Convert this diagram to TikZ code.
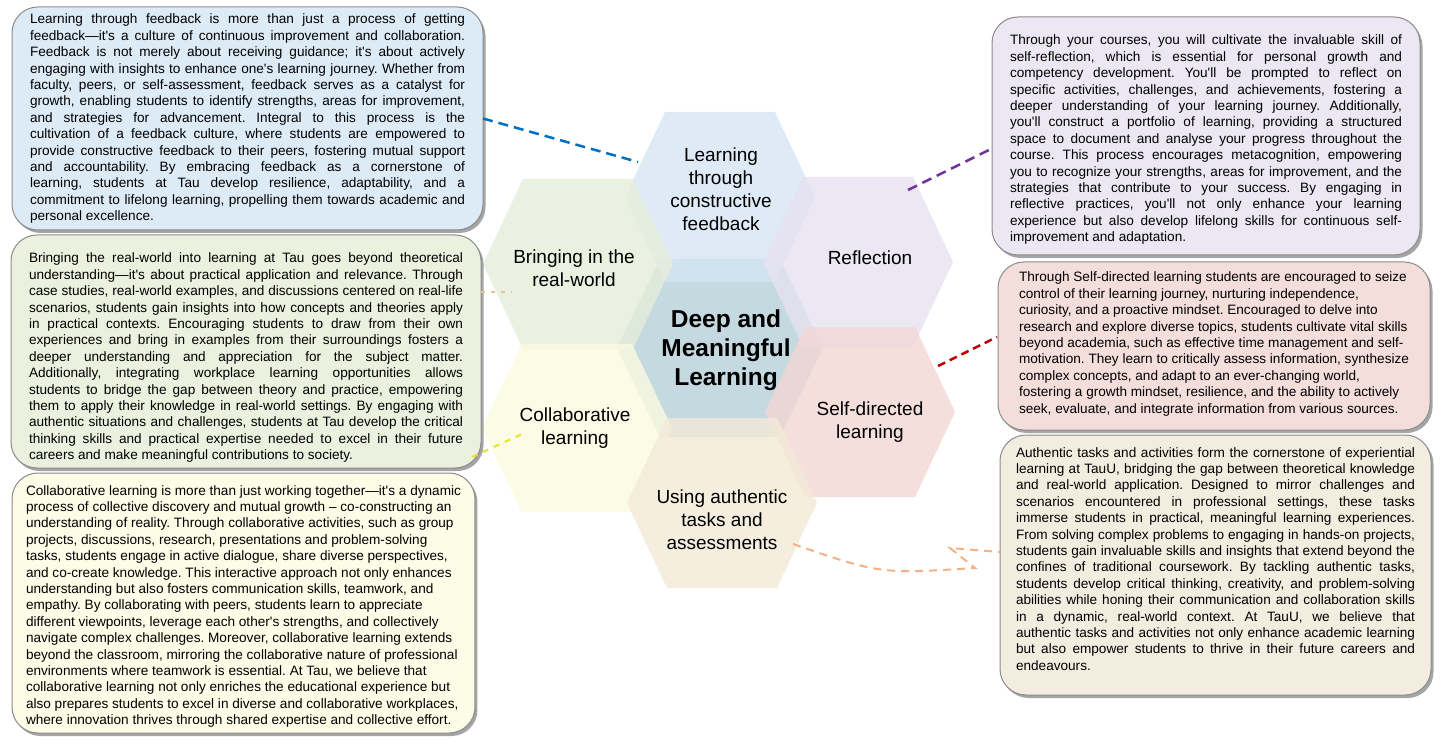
\documentclass[tikz,border=0pt]{standalone}
\usepackage{fontspec}
\setmainfont{Liberation Sans}[Ligatures=TeXOff]
\usetikzlibrary{shadows}
\frenchspacing
\definecolor{bxblue}{RGB}{221,235,247}
\definecolor{bxgreen}{RGB}{235,241,222}
\definecolor{bxyellow}{RGB}{253,252,231}
\definecolor{bxpurple}{RGB}{235,231,243}
\definecolor{bxpink}{RGB}{244,222,220}
\definecolor{bxbeige}{RGB}{243,237,223}
\definecolor{hxblue}{RGB}{214,230,245}
\definecolor{hxgreen}{RGB}{230,238,218}
\definecolor{hxpurple}{RGB}{231,226,241}
\definecolor{hxyellow}{RGB}{251,250,224}
\definecolor{hxpink}{RGB}{243,215,213}
\definecolor{hxbeige}{RGB}{243,234,216}
\definecolor{hxcenter}{RGB}{197,217,224}
\definecolor{lnblue}{RGB}{0,112,192}
\definecolor{lnpurple}{RGB}{112,48,160}
\definecolor{lnred}{RGB}{192,0,0}
\definecolor{lnyellow}{RGB}{232,228,40}
\definecolor{lnorange}{RGB}{244,177,131}
\definecolor{lntan}{RGB}{225,195,150}
\newcommand\Jl[1]{\hbox to \hsize{#1}}
\newcommand\Rl[1]{\hbox{#1}}
% cx cy halfwidth halftop halfheight style
\newcommand\hexshape[6]{%
  \fill[#6] (#1-#3,#2) -- (#1-#4,#2-#5) -- (#1+#4,#2-#5) -- (#1+#3,#2) -- (#1+#4,#2+#5) -- (#1-#4,#2+#5) -- cycle;}
\tikzset{
  infobox/.style={rectangle, draw=black!45, line width=1pt, rounded corners=26pt,
    anchor=north west, outer sep=0pt, text height=10pt,
    font=\fontsize{13.6}{16.4}\selectfont,
    drop shadow={shadow xshift=2.5pt, shadow yshift=-3pt, opacity=0.5, fill=black!70}},
  hexlabel/.style={align=center, font=\fontsize{19}{22.9}\selectfont, inner sep=0pt},
  conn/.style={line width=2.5pt, dash pattern=on 10pt off 6pt}
}
\begin{document}
\begin{tikzpicture}[x=1pt,y=-1pt]
\useasboundingbox (0,0) rectangle (1440,743);
\fill[white] (0,0) rectangle (1440,743);

% hexagons
\hexshape{720}{348}{103}{60}{89}{hxcenter}
\hexshape{720}{197}{95}{55}{85}{hxblue, fill opacity=0.8}
\hexshape{578}{264}{95}{55}{85}{hxgreen, fill opacity=0.8}
\hexshape{858}{262}{95}{55}{85}{hxpurple, fill opacity=0.8}
\hexshape{577}{428}{95}{55}{84}{hxyellow, fill opacity=0.8}
\hexshape{860}{412}{95}{55}{85}{hxpink, fill opacity=0.8}
\hexshape{722}{503}{95}{55}{85}{hxbeige, fill opacity=0.8}

% hexagon labels
\node[hexlabel] (lT) at (721,189) {Learning\\through\\constructive\\feedback};
\node[hexlabel] (lUL) at (574,268) {Bringing in the\\real-world};
\node[hexlabel] (lUR) at (870,258) {Reflection};
\node[hexlabel] (lLL) at (575,428) {Collaborative\\learning};
\node[hexlabel] (lLR) at (870,422) {Self-directed\\learning};
\node[hexlabel] (lB) at (722,520) {Using authentic\\tasks and\\assessments};
\node[hexlabel, font=\bfseries\fontsize{24.5}{29.2}\selectfont] (lC) at (726,350) {Deep and\\Meaningful\\Learning};

% text boxes
\node[infobox, fill=bxblue, inner xsep=18pt, inner ysep=7pt, text depth=199pt] (b1) at (12,7) {\vtop{\hsize=435pt\relax
\Jl{Learning through feedback is more than just a process of getting}
\Jl{feedback—it's a culture of continuous improvement and collaboration.}
\Jl{Feedback is not merely about receiving guidance; it's about actively}
\Jl{engaging with insights to enhance one's learning journey. Whether from}
\Jl{faculty, peers, or self-assessment, feedback serves as a catalyst for}
\Jl{growth, enabling students to identify strengths, areas for improvement,}
\Jl{and strategies for advancement. Integral to this process is the}
\Jl{cultivation of a feedback culture, where students are empowered to}
\Jl{provide constructive feedback to their peers, fostering mutual support}
\Jl{and accountability. By embracing feedback as a cornerstone of}
\Jl{learning, students at Tau develop resilience, adaptability, and a}
\Jl{commitment to lifelong learning, propelling them towards academic and}
\Rl{personal excellence.}}};

\node[infobox, fill=bxgreen, inner xsep=18pt, inner ysep=18pt, text depth=187pt] (b2) at (11,235) {\vtop{\hsize=434pt\relax
\Jl{Bringing the real-world into learning at Tau goes beyond theoretical}
\Jl{understanding—it's about practical application and relevance. Through}
\Jl{case studies, real-world examples, and discussions centered on real-life}
\Jl{scenarios, students gain insights into how concepts and theories apply}
\Jl{in practical contexts. Encouraging students to draw from their own}
\Jl{experiences and bring in examples from their surroundings fosters a}
\Jl{deeper understanding and appreciation for the subject matter.}
\Jl{Additionally, integrating workplace learning opportunities allows}
\Jl{students to bridge the gap between theory and practice, empowering}
\Jl{them to apply their knowledge in real-world settings. By engaging with}
\Jl{authentic situations and challenges, students at Tau develop the critical}
\Jl{thinking skills and practical expertise needed to excel in their future}
\Rl{careers and make meaningful contributions to society.}}};

\node[infobox, fill=bxyellow, inner xsep=14pt, inner ysep=12pt, text depth=226pt] (b3) at (12,473) {\vtop{\hsize=432pt\relax
\Rl{Collaborative learning is more than just working together—it's a dynamic}
\Rl{process of collective discovery and mutual growth – co-constructing an}
\Rl{understanding of reality. Through collaborative activities, such as group}
\Rl{projects, discussions, research, presentations and problem-solving}
\Rl{tasks, students engage in active dialogue, share diverse perspectives,}
\Rl{and co-create knowledge. This interactive approach not only enhances}
\Rl{understanding but also fosters communication skills, teamwork, and}
\Rl{empathy. By collaborating with peers, students learn to appreciate}
\Rl{different viewpoints, leverage each other's strengths, and collectively}
\Rl{navigate complex challenges. Moreover, collaborative learning extends}
\Rl{beyond the classroom, mirroring the collaborative nature of professional}
\Rl{environments where teamwork is essential. At Tau, we believe that}
\Rl{collaborative learning not only enriches the educational experience but}
\Rl{also prepares students to excel in diverse and collaborative workplaces,}
\Rl{where innovation thrives through shared expertise and collective effort.}}};

\node[infobox, fill=bxpurple, inner xsep=18pt, inner ysep=18pt, text depth=192pt] (b4) at (992,17) {\vtop{\hsize=392pt\relax
\Jl{Through your courses, you will cultivate the invaluable skill of}
\Jl{self-reflection, which is essential for personal growth and}
\Jl{competency development. You'll be prompted to reflect on}
\Jl{specific activities, challenges, and achievements, fostering a}
\Jl{deeper understanding of your learning journey. Additionally,}
\Jl{you'll construct a portfolio of learning, providing a structured}
\Jl{space to document and analyse your progress throughout the}
\Jl{course. This process encourages metacognition, empowering}
\Jl{you to recognize your strengths, areas for improvement, and the}
\Jl{strategies that contribute to your success. By engaging in}
\Jl{reflective practices, you'll not only enhance your learning}
\Jl{experience but also develop lifelong skills for continuous self-}
\Rl{improvement and adaptation.}}};

\node[infobox, fill=bxpink, inner xsep=21pt, inner ysep=10pt, text depth=138pt] (b5) at (998,262) {\vtop{\hsize=395pt\relax
\Rl{Through Self-directed learning students are encouraged to seize}
\Rl{control of their learning journey, nurturing independence,}
\Rl{curiosity, and a proactive mindset. Encouraged to delve into}
\Rl{research and explore diverse topics, students cultivate vital skills}
\Rl{beyond academia, such as effective time management and self-}
\Rl{motivation. They learn to critically assess information, synthesize}
\Rl{complex concepts, and adapt to an ever-changing world,}
\Rl{fostering a growth mindset, resilience, and the ability to actively}
\Rl{seek, evaluate, and integrate information from various sources.}}};

\node[infobox, fill=bxbeige, inner xsep=16pt, inner ysep=12pt, text depth=226pt] (b6) at (1000,435) {\vtop{\hsize=399pt\relax
\Jl{Authentic tasks and activities form the cornerstone of experiential}
\Jl{learning at TauU, bridging the gap between theoretical knowledge}
\Jl{and real-world application. Designed to mirror challenges and}
\Jl{scenarios encountered in professional settings, these tasks}
\Jl{immerse students in practical, meaningful learning experiences.}
\Jl{From solving complex problems to engaging in hands-on projects,}
\Jl{students gain invaluable skills and insights that extend beyond the}
\Jl{confines of traditional coursework. By tackling authentic tasks,}
\Jl{students develop critical thinking, creativity, and problem-solving}
\Jl{abilities while honing their communication and collaboration skills}
\Jl{in a dynamic, real-world context. At TauU, we believe that}
\Jl{authentic tasks and activities not only enhance academic learning}
\Jl{but also empower students to thrive in their future careers and}
\Rl{endeavours.}}};

% connectors
\coordinate (pT) at (638,162);
\draw[conn, lnblue] (b1.east) -- (pT);
\coordinate (pUL) at (512,292);
\draw[lntan, line width=1.5pt, dash pattern=on 4pt off 6pt] (b2.east |- pUL) -- (pUL);
\coordinate (qLL) at (472,457);
\coordinate (pLL) at (522,434);
\draw[lnyellow, line width=2pt, dash pattern=on 6pt off 6pt] (qLL) -- (pLL);
\coordinate (pUR) at (908,190);
\coordinate (qUR) at (991,149);
\draw[conn, lnpurple] (pUR) -- (qUR);
\coordinate (pLR) at (938,366);
\coordinate (qLR) at (997,337);
\draw[conn, lnred, dash pattern=on 8pt off 5pt] (pLR) -- (qLR);
\coordinate (pB) at (793,544);
\coordinate (yB) at (0,552);
\draw[lnorange, line width=2pt, dash pattern=on 8pt off 6pt] (pB) .. controls (880,574) .. (975,568) -- (950,548) -- (b6.west |- yB);
\end{tikzpicture}
\end{document}
